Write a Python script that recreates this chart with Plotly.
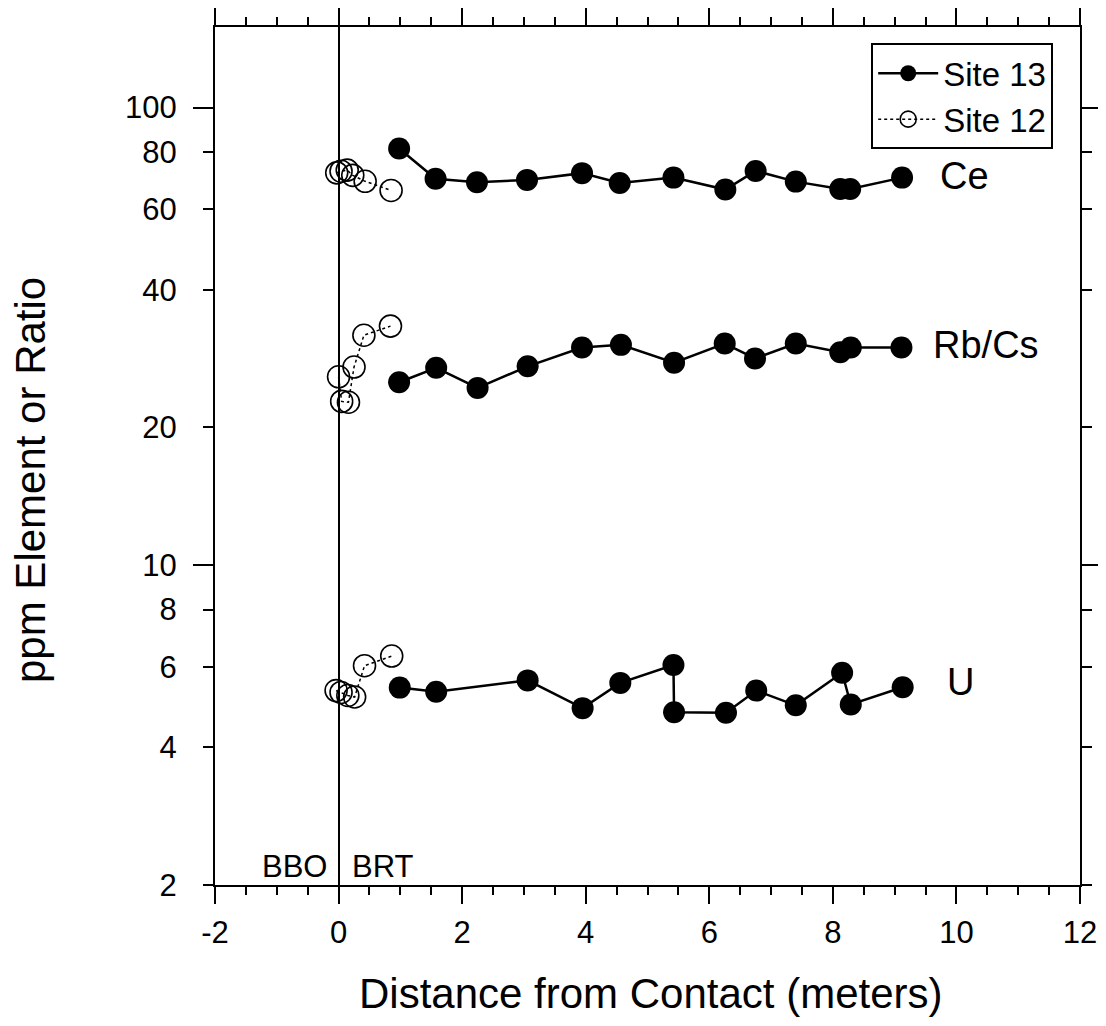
import math
import plotly.graph_objects as go

# ---- data ----
# Site 13 (filled circles, solid line)
ce13_x = [0.98, 1.57, 2.24, 3.05, 3.94, 4.55, 5.42, 6.26, 6.75, 7.40, 8.12, 8.28, 9.12]
ce13_y = [81.4, 69.9, 68.7, 69.5, 71.9, 68.4, 70.3, 66.2, 72.7, 68.9, 66.4, 66.4, 70.3]
rb13_x = [0.98, 1.58, 2.25, 3.06, 3.94, 4.57, 5.43, 6.25, 6.74, 7.40, 8.12, 8.29, 9.11]
rb13_y = [25.1, 27.0, 24.4, 27.2, 29.9, 30.3, 27.7, 30.5, 28.3, 30.5, 29.2, 29.9, 29.9]
u13_x = [0.99, 1.58, 3.06, 3.95, 4.56, 5.42, 5.43, 6.27, 6.76, 7.40, 8.15, 8.29, 9.13]
u13_y = [5.40, 5.29, 5.60, 4.87, 5.53, 6.05, 4.77, 4.76, 5.32, 4.94, 5.82, 4.96, 5.41]

# Site 12 (open circles, dotted line)
ce12_x = [-0.03, 0.04, 0.14, 0.23, 0.43, 0.85]
ce12_y = [72.0, 72.6, 73.0, 71.1, 69.0, 65.9]
rb12_x = [0.00, 0.05, 0.16, 0.25, 0.41, 0.84]
rb12_y = [25.8, 22.8, 22.7, 27.1, 31.8, 33.3]
u12_x = [-0.04, 0.04, 0.15, 0.26, 0.42, 0.86]
u12_y = [5.32, 5.27, 5.19, 5.15, 6.03, 6.33]

y_tickvals = [2, 4, 6, 8, 10, 20, 40, 60, 80, 100]
y_ticktext = ["2", "4", "6", "8", "10", "20", "40", "60", "80", "100"]
y_major = [10, 100]
x_tickvals = [-2, 0, 2, 4, 6, 8, 10, 12]
x_ticktext = ["-2", "0", "2", "4", "6", "8", "10", "12"]

element_labels = ["Ce", "Rb/Cs", "U"]
element_label_pos = [(9.70, 71.0), (9.59, 30.3), (9.81, 5.55)]

FONT = "Liberation Sans, Arial, sans-serif"

fig = go.Figure()

site13 = [(ce13_x, ce13_y), (rb13_x, rb13_y), (u13_x, u13_y)]
for i, (xs, ys) in enumerate(site13):
    fig.add_trace(go.Scatter(
        x=xs, y=ys, mode="lines+markers", name="Site 13",
        legendgroup="s13", showlegend=(i == 0),
        line=dict(color="black", width=2.5),
        marker=dict(symbol="circle", size=22, color="black"),
    ))

site12 = [(ce12_x, ce12_y), (rb12_x, rb12_y), (u12_x, u12_y)]
for i, (xs, ys) in enumerate(site12):
    fig.add_trace(go.Scatter(
        x=xs, y=ys, mode="lines+markers", name="Site 12",
        legendgroup="s12", showlegend=(i == 0),
        line=dict(color="black", width=1.5, dash="dot"),
        marker=dict(symbol="circle-open", size=22, color="black",
                    line=dict(width=1.6, color="black")),
    ))

# empty helper trace so the long-tick overlay axis is drawn
fig.add_trace(go.Scatter(x=[], y=[], yaxis="y2", showlegend=False, hoverinfo="skip"))

yrange = [math.log10(2), math.log10(150)]

# the page body adds an 8 px offset, so the figure is 8 px smaller
fig.update_layout(
    width=1098, height=1018,
    margin=dict(l=207, r=26, t=19, b=141, autoexpand=False),
    paper_bgcolor="white", plot_bgcolor="white",
    font=dict(family=FONT, size=31, color="black"),
    showlegend=True,
    legend=dict(
        x=0.969, y=0.981, xanchor="right", yanchor="top",
        bgcolor="white", bordercolor="black", borderwidth=2,
        font=dict(family=FONT, size=33, color="black"),
        itemwidth=60, tracegroupgap=0,
    ),
    xaxis=dict(
        range=[-2, 12], tickmode="array", tickvals=x_tickvals, ticktext=x_ticktext,
        ticks="outside", ticklen=17, tickwidth=2, tickcolor="black",
        showline=True, linecolor="black", linewidth=2, mirror="ticks",
        showgrid=False, zeroline=True, zerolinecolor="black", zerolinewidth=2,
        tickfont=dict(family=FONT, size=31, color="black"),
        ticklabelstandoff=2,
        minor=dict(dtick=0.5, ticks="outside", ticklen=8, tickwidth=2,
                   tickcolor="black", showgrid=False),
    ),
    yaxis=dict(
        type="log", range=yrange, tickmode="array",
        tickvals=y_tickvals, ticktext=y_ticktext,
        ticks="outside", ticklen=10, tickwidth=2, tickcolor="black",
        showline=True, linecolor="black", linewidth=2, mirror="ticks",
        showgrid=False, zeroline=False,
        tickfont=dict(family=FONT, size=31, color="black"),
        ticklabelstandoff=20,
    ),
    yaxis2=dict(
        type="log", range=yrange, overlaying="y", side="left", anchor="x",
        tickmode="array", tickvals=y_major, showticklabels=False,
        ticks="outside", ticklen=20, tickwidth=2, tickcolor="black",
        showline=True, linecolor="black", linewidth=2, mirror="ticks",
        showgrid=False, zeroline=False,
    ),
)

# element labels
for txt, (lx, ly) in zip(element_labels, element_label_pos):
    fig.add_annotation(x=lx, y=math.log10(ly), xref="x", yref="y", text=txt,
                       showarrow=False, xanchor="left", yanchor="middle",
                       font=dict(family=FONT, size=38, color="black"))

# formation labels
fig.add_annotation(x=-0.15, y=0.022, xref="x", yref="paper", text="BBO",
                   showarrow=False, xanchor="right", yanchor="middle",
                   font=dict(family=FONT, size=31, color="black"))
fig.add_annotation(x=0.18, y=0.022, xref="x", yref="paper", text="BRT",
                   showarrow=False, xanchor="left", yanchor="middle",
                   font=dict(family=FONT, size=31, color="black"))

# axis titles
fig.add_annotation(x=0.504, y=-0.1259, xref="paper", yref="paper",
                   text="Distance from Contact (meters)", showarrow=False,
                   xanchor="center", yanchor="middle",
                   font=dict(family=FONT, size=42, color="black"))
fig.add_annotation(x=-0.2139, y=0.472, xref="paper", yref="paper",
                   text="ppm Element or Ratio", showarrow=False, textangle=-90,
                   xanchor="center", yanchor="middle",
                   font=dict(family=FONT, size=42, color="black"))

fig.write_html("out.html")
